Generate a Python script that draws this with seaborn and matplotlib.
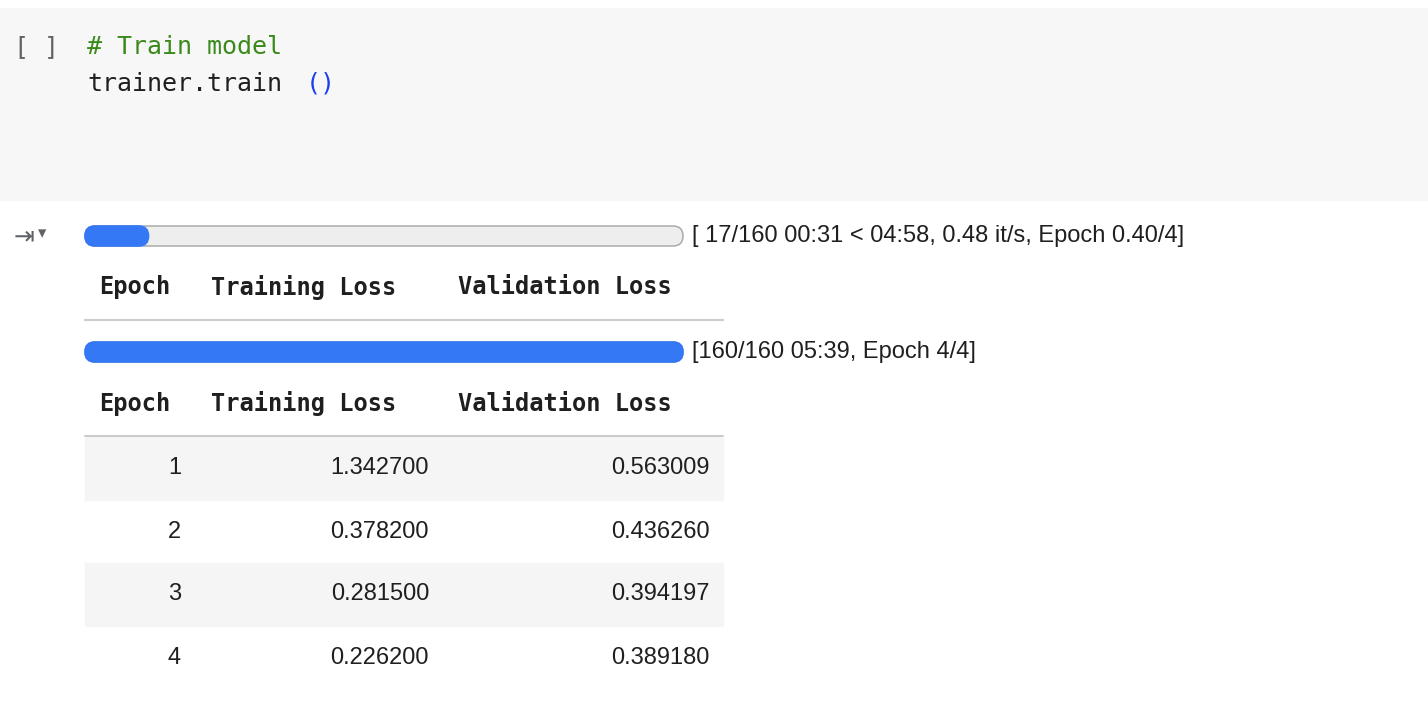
import matplotlib
matplotlib.use("Agg")
import matplotlib.pyplot as plt
from matplotlib.patches import FancyBboxPatch, Rectangle
import seaborn as sns

code_lines = ["# Train model", "trainer.train()"]
progress_done = [17, 160]
progress_total = [160, 160]
progress_text = ["[ 17/160 00:31 < 04:58, 0.48 it/s, Epoch 0.40/4]",
                 "[160/160 05:39, Epoch 4/4]"]
headers = ["Epoch", "Training Loss", "Validation Loss"]
epochs = [1, 2, 3, 4]
train_loss = [1.342700, 0.378200, 0.281500, 0.226200]
val_loss = [0.563009, 0.436260, 0.394197, 0.389180]

sns.set_style("white")
plt.rcParams['font.family'] = ['Liberation Sans', 'DejaVu Sans']
mono = 'DejaVu Sans Mono'

fig = plt.figure(figsize=(14.28, 7.2), dpi=100)
ax = fig.add_axes([0, 0, 1, 1])
ax.set_xlim(0, 1428)
ax.set_ylim(720, 0)
ax.axis('off')

# code cell
ax.add_patch(Rectangle((0, 8), 1428, 192, color='#f7f7f7', zorder=0))
ax.text(14, 47, "[ ]", family=mono, fontsize=18, color='#5f6368', va='center')
ax.text(87, 47, code_lines[0], family=mono, fontsize=18, color='#3a8a1a', va='center')
ax.text(87, 84, "trainer.train", family=mono, fontsize=18, color='#1f1f1f', va='center')
ax.text(306, 84, "()", family=mono, fontsize=18, color='#1a3ef0', va='center')

# output icon
ax.text(14, 236, "⇥", family='DejaVu Sans', fontsize=18, color='#5f6368', va='center')
ax.text(38, 233, "▾", family='DejaVu Sans', fontsize=12, color='#5f6368', va='center')

# progress bars
bar_y = [236, 352]
for y, done, tot, txt in zip(bar_y, progress_done, progress_total, progress_text):
    x0, w, h = 85, 598, 20
    ax.add_patch(FancyBboxPatch((x0, y - h / 2), w, h, boxstyle="round,pad=0,rounding_size=10",
                                fc='#eeeeee', ec='#b0b0b0', lw=1.2, zorder=1))
    ax.add_patch(FancyBboxPatch((x0, y - h / 2), w * done / tot, h,
                                boxstyle="round,pad=0,rounding_size=10",
                                fc='#3478f6', ec='#3478f6', lw=1.2, zorder=2))
    ax.text(692, y, txt, fontsize=17, color='#1f1f1f', va='center')

# tables
hx = [99, 211, 458]
for hy, ly in [(287, 320), (404, 436)]:
    for x, h in zip(hx, headers):
        ax.text(x, hy, h, family=mono, fontsize=17, weight='bold', color='#1f1f1f', va='center')
    ax.plot([85, 723], [ly, ly], color='#cccccc', lw=1.5)

row_h = 63
for i, (e, t, v) in enumerate(zip(epochs, train_loss, val_loss)):
    top = 437 + i * row_h
    if i % 2 == 0:
        ax.add_patch(Rectangle((85, top), 638, row_h, color='#f5f5f5', zorder=0))
    cy = top + row_h / 2
    ax.text(181, cy, str(e), fontsize=17, ha='right', va='center', color='#1f1f1f')
    ax.text(429, cy, f"{t:.6f}", fontsize=17, ha='right', va='center', color='#1f1f1f')
    ax.text(710, cy, f"{v:.6f}", fontsize=17, ha='right', va='center', color='#1f1f1f')

fig.savefig("out.png", dpi=100)
